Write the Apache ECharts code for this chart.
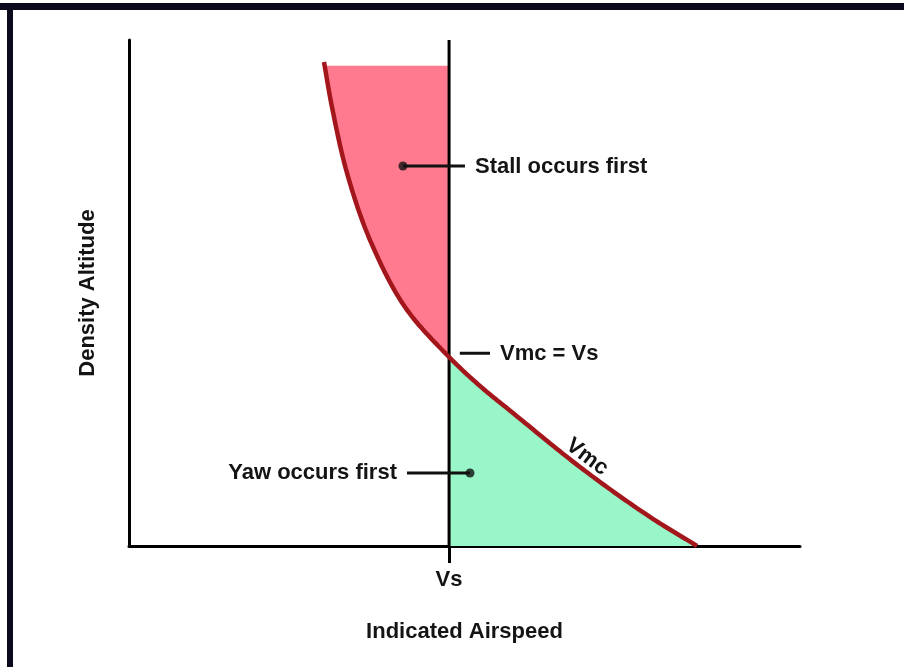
<!DOCTYPE html>
<html>
<head>
<meta charset="utf-8">
<script src="https://cdn.jsdelivr.net/npm/echarts@6/dist/echarts.min.js"></script>
<style>html,body{margin:0;padding:0;background:#fff}#c{width:904px;height:667px}</style>
</head>
<body>
<div id="c"></div>
<script>
// ---- data (arbitrary units 0..100) ----
const VS = 47.7;              // stall speed on the airspeed axis
const curveX = [29.06, 30.25, 32.49, 35.92, 41.13, VS, 52.31, 57.23, 67.21, 77.2, 84.65];
const curveY = [95.65, 86.76, 73.72, 60.47, 47.23, 37.35, 31.62, 26.28, 15.61, 6.13, 0];
const stallTopY = 94.9;       // top edge of the "stall occurs first" region
const xTickValues = [VS];
const xTickLabels = ['Vs'];
const axisNames = {x: 'Indicated Airspeed', y: 'Density Altitude'};
const notes = {
  stall: {text: 'Stall occurs first', dot: [40.83, 75.1], leaderEnd: 50.07, at: [51.56, 74.9]},
  equal: {text: 'Vmc = Vs', leader: [49.3, 53.8], y: 38.1, at: [55.29, 37.95]},
  yaw:   {text: 'Yaw occurs first', dot: [50.82, 14.43], leaderEnd: 41.43, at: [39.94, 14.43]},
  vmc:   {text: 'Vmc', at: [68.26, 17.6], angle: -37}
};

const curve = curveX.map((x, i) => [x, curveY[i]]);
const vsIndex = curveX.indexOf(VS);

const FONT = '"Liberation Sans", Arial, sans-serif';
const TXT = '#141414';
const labelStyle = {fontFamily: FONT, fontWeight: 'bold', fontSize: 22, color: TXT};

// centripetal Catmull-Rom through pixel points (rendering only)
function spline(pts, steps) {
  const n = pts.length, out = [pts[0].slice()];
  const d = (a, b) => Math.pow(Math.hypot(b[0] - a[0], b[1] - a[1]), 0.5) || 1e-6;
  for (let i = 0; i < n - 1; i++) {
    const p1 = pts[i], p2 = pts[i + 1];
    const p0 = i > 0 ? pts[i - 1] : [2 * p1[0] - p2[0], 2 * p1[1] - p2[1]];
    const p3 = i < n - 2 ? pts[i + 2] : [2 * p2[0] - p1[0], 2 * p2[1] - p1[1]];
    const t0 = 0, t1 = t0 + d(p0, p1), t2 = t1 + d(p1, p2), t3 = t2 + d(p2, p3);
    for (let s = 1; s <= steps; s++) {
      const t = t1 + (t2 - t1) * s / steps;
      const L = (a, b, ta, tb) => [ (tb - t) / (tb - ta) * a[0] + (t - ta) / (tb - ta) * b[0],
                                    (tb - t) / (tb - ta) * a[1] + (t - ta) / (tb - ta) * b[1] ];
      const A1 = L(p0, p1, t0, t1), A2 = L(p1, p2, t1, t2), A3 = L(p2, p3, t2, t3);
      const B1 = L(A1, A2, t0, t2), B2 = L(A2, A3, t1, t3);
      out.push(L(B1, B2, t1, t2));
    }
  }
  return out;
}
const STEPS = 24;

function zonesItem(params, api) {
  if (params.dataIndex !== 0) return null;
  const px = curve.map(p => api.coord(p));
  const s = spline(px, STEPS);
  const k = vsIndex * STEPS;
  const topPx = api.coord([VS, stallTopY])[1];
  const vsPx = api.coord([VS, 0])[0];
  const basePx = api.coord([VS, 0])[1];
  // stall zone
  let i = 0; while (i < k && s[i][1] < topPx) i++;
  const a = s[Math.max(i - 1, 0)], b = s[i];
  const f = b[1] === a[1] ? 0 : (topPx - a[1]) / (b[1] - a[1]);
  const pink = [[a[0] + (b[0] - a[0]) * f, topPx]].concat(s.slice(i, k + 1)).concat([[vsPx, topPx]]);
  const green = s.slice(k).concat([[vsPx, basePx]]);
  return {type: 'group', children: [
    {type: 'polygon', shape: {points: pink}, style: {fill: '#FF7A8E'}},
    {type: 'polygon', shape: {points: green}, style: {fill: '#98F6C8'}}
  ]};
}
function curveItem(params, api) {
  if (params.dataIndex !== 0) return null;
  const s = spline(curve.map(p => api.coord(p)), STEPS);
  return {type: 'polyline', shape: {points: s},
    style: {stroke: '#A3161C', lineWidth: 4.5, fill: null, lineCap: 'butt', lineJoin: 'round'}};
}
function textItem(params, api) {
  const n = noteList[params.dataIndex];
  const p = api.coord(n.at);
  return {type: 'text', x: p[0], y: p[1], rotation: (n.angle || 0) * Math.PI / 180,
    style: {text: n.text, fill: TXT, font: 'bold 22px ' + FONT,
      align: n.align, textAlign: n.align, verticalAlign: 'middle', textVerticalAlign: 'middle'}};
}
const noteList = [
  {text: notes.stall.text, at: notes.stall.at, align: 'left'},
  {text: notes.equal.text, at: notes.equal.at, align: 'left'},
  {text: notes.yaw.text, at: notes.yaw.at, align: 'right'},
  {text: notes.vmc.text, at: notes.vmc.at, align: 'center', angle: notes.vmc.angle}
];

const chart = echarts.init(document.getElementById('c'), null, {renderer: 'canvas'});
chart.setOption({
  backgroundColor: '#ffffff',
  animation: false,
  graphic: [
    {type: 'rect', shape: {x: 0, y: 3, width: 904, height: 7}, style: {fill: '#0b0a1c'}, silent: true},
    {type: 'rect', shape: {x: 7, y: 3, width: 6, height: 664}, style: {fill: '#0b0a1c'}, silent: true}
  ],
  grid: {left: 129, top: 40, right: 104, bottom: 121, outerBoundsMode: 'none', containLabel: false},
  xAxis: {
    type: 'value', min: 0, max: 100,
    splitLine: {show: false},
    axisLine: {show: true, onZero: false, lineStyle: {color: '#000', width: 3}},
    axisTick: {show: true, customValues: xTickValues, length: 17, lineStyle: {color: '#000', width: 3}},
    axisLabel: {show: true, customValues: xTickValues, formatter: v => xTickLabels[xTickValues.indexOf(v)] || '',
      margin: 23, ...labelStyle},
    name: axisNames.x, nameLocation: 'middle', nameGap: 75,
    nameTextStyle: {...labelStyle}
  },
  yAxis: {
    type: 'value', min: 0, max: 100,
    splitLine: {show: false},
    axisLine: {show: true, onZero: false, lineStyle: {color: '#000', width: 3}},
    axisTick: {show: false},
    axisLabel: {show: false},
    name: axisNames.y, nameLocation: 'middle', nameGap: 30, nameRotate: 90,
    nameTextStyle: {...labelStyle}
  },
  series: [
    {type: 'custom', data: curve, renderItem: zonesItem, silent: true, z: 1},
    { // Vs vertical line
      type: 'line', data: [[VS, 0], [VS, 100]], showSymbol: false, silent: true,
      lineStyle: {color: '#000', width: 3}, z: 2
    },
    {type: 'custom', data: curve, renderItem: curveItem, silent: true, z: 3},
    { // leader lines
      type: 'line', data: [notes.stall.dot, [notes.stall.leaderEnd, notes.stall.dot[1]]],
      showSymbol: false, silent: true, lineStyle: {color: '#111', width: 3}, z: 4
    },
    {
      type: 'line', data: [[notes.equal.leader[0], notes.equal.y], [notes.equal.leader[1], notes.equal.y]],
      showSymbol: false, silent: true, lineStyle: {color: '#111', width: 3}, z: 4
    },
    {
      type: 'line', data: [[notes.yaw.leaderEnd, notes.yaw.dot[1]], notes.yaw.dot],
      showSymbol: false, silent: true, lineStyle: {color: '#111', width: 3}, z: 4
    },
    { // dots
      type: 'scatter', data: [notes.stall.dot, notes.yaw.dot], symbolSize: 9, silent: true,
      itemStyle: {color: '#111'}, z: 5
    },
    {type: 'custom', data: noteList.map(n => n.at), renderItem: textItem, silent: true, z: 6}
  ]
});
</script>
</body>
</html>
